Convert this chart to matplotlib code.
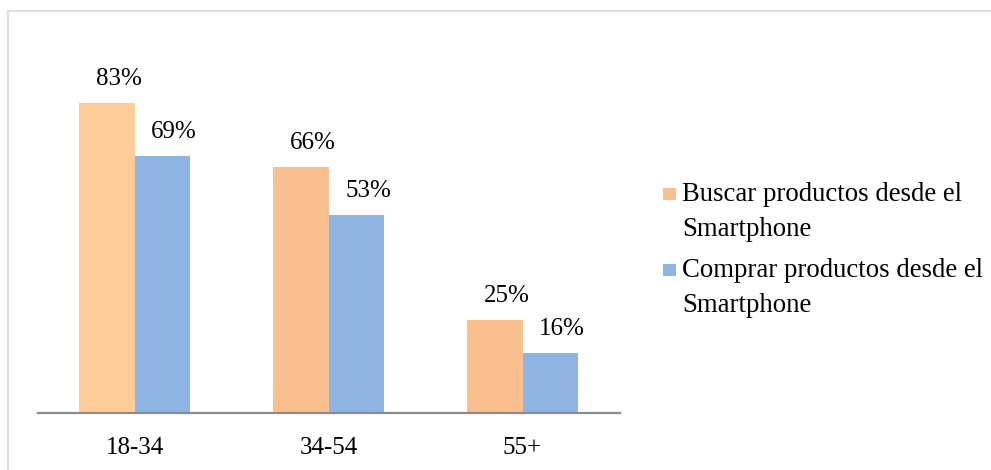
import matplotlib
matplotlib.use("Agg")
import matplotlib.pyplot as plt
import numpy as np
from matplotlib.lines import Line2D
from matplotlib.patches import Rectangle

plt.rcParams["font.family"] = ["Liberation Serif", "DejaVu Serif"]
plt.rcParams["font.size"] = 18

# Age groups and percentages
groups = ["18-34", "34-54", "55+"]
buscar = [83, 66, 25]
comprar = [69, 53, 16]
series_names = ["Buscar productos desde el\nSmartphone",
                "Comprar productos desde el\nSmartphone"]

orange = ["#FFCC99", "#FAC090", "#FAC090"]
blue = "#8EB4E3"

W, H = 991, 470
fig = plt.figure(figsize=(W / 100, H / 100), dpi=100)

# axes placed in pixel terms: x 37..620, y 40..413 (from top)
ax = fig.add_axes([37.5 / W, (H - 413) / H, 582 / W, 373 / H])

x = np.arange(len(groups))
bw = 0.285
b1 = ax.bar(x - bw / 2, buscar, bw, color=orange, linewidth=0)
b2 = ax.bar(x + bw / 2, comprar, bw, color=blue, linewidth=0)

for bars, vals in ((b1, buscar), (b2, comprar)):
    for rect, v in zip(bars, vals):
        ax.annotate(f"{v}%", (rect.get_x() + rect.get_width() / 2, v),
                    xytext=(12, 18), textcoords="offset pixels",
                    ha="center", va="baseline", fontsize=18)

ax.set_xlim(-0.5, 2.5)
ax.set_ylim(0, 100)
ax.set_xticks(x)
ax.set_xticklabels(groups)
ax.set_yticks([])
ax.tick_params(axis="x", length=0, pad=17, labelsize=18)
for s in ("top", "right", "left"):
    ax.spines[s].set_visible(False)
ax.spines["bottom"].set_color("#8C8C8C")
ax.spines["bottom"].set_linewidth(1.6)
ax.patch.set_alpha(0)

# legend drawn by hand so the swatch sits on the first line
legend_rows = [(series_names[0], "#FAC090", 194), (series_names[1], blue, 270)]
for label, col, ypix in legend_rows:
    fig.patches.append(Rectangle((663 / W, (H - ypix - 6) / H), 13 / W, 12 / H,
                                 transform=fig.transFigure, color=col, lw=0))
    fig.text(682 / W, (H - ypix + 12) / H, label, ha="left", va="top",
             fontsize=19.3, linespacing=1.5)

# outer frame (top and left edges only)
fig.lines.append(Line2D([8 / W, 1], [(H - 11) / H] * 2, transform=fig.transFigure,
                        color="#D9D9D9", lw=1.2))
fig.lines.append(Line2D([8 / W] * 2, [0, (H - 11) / H], transform=fig.transFigure,
                        color="#D9D9D9", lw=1.2))

fig.savefig("out.png", dpi=100)
